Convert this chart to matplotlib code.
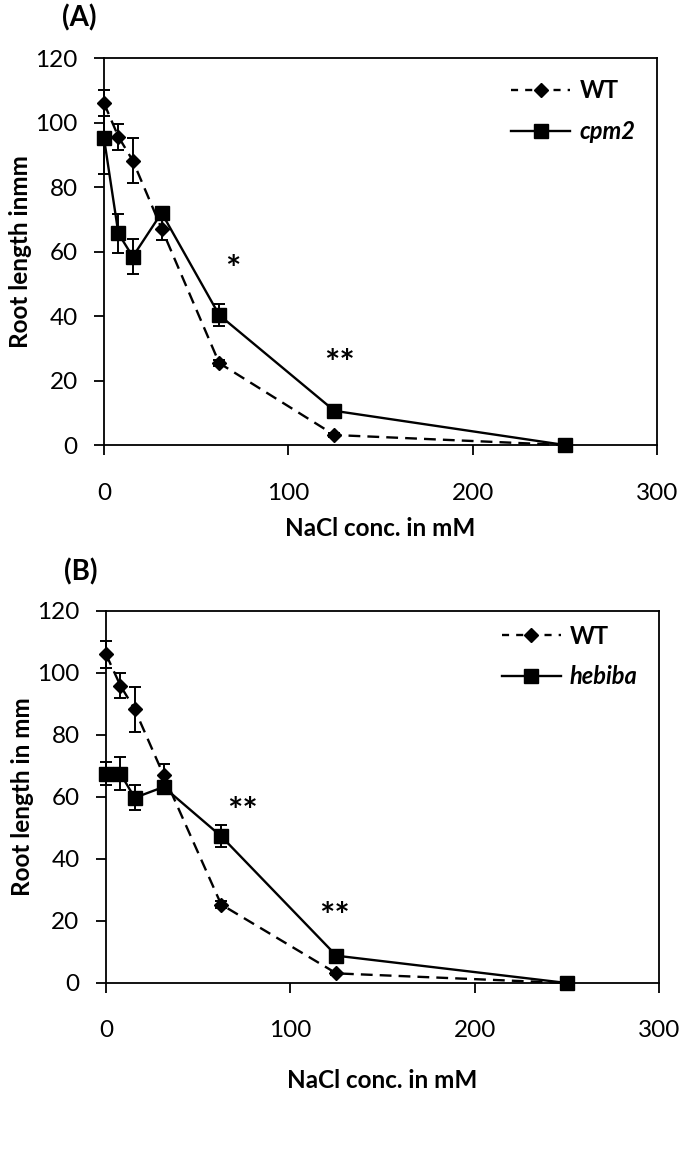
import matplotlib
matplotlib.use('Agg')
import matplotlib.pyplot as plt
from matplotlib.lines import Line2D

plt.rcParams['font.family'] = ['Lato', 'DejaVu Sans']

conc = [0, 7.8, 15.6, 31.25, 62.5, 125, 250]

wt_a = [106, 95.6, 88.2, 67.1, 25.4, 3.1, 0]
wt_a_err = [4, 4, 7, 3.5, 1, 0.5, 0]
cpm2 = [95.1, 65.6, 58.4, 72, 40.3, 10.6, 0]
cpm2_err = [11, 6, 5.5, 1.5, 3.3, 1, 0]

wt_b = [106, 95.9, 88.2, 67, 25.3, 3.1, 0]
wt_b_err = [4.3, 4, 7.2, 3.5, 1, 0.5, 0]
hebiba = [67.5, 67.5, 59.7, 63.2, 47.3, 8.8, 0]
hebiba_err = [3.7, 5.3, 4, 1.5, 3.5, 1, 0]

x_ticks = [0, 100, 200, 300]
y_ticks = [0, 20, 40, 60, 80, 100, 120]

# significance marks: (x, y, text)
stars_a = [(70, 54, '*'), (128, 25, '**')]
stars_b = [(74, 55, '**'), (124, 21, '**')]

fig = plt.figure(figsize=(7, 11.68), dpi=100)
axA = fig.add_axes([0.1486, 0.619, 0.79, 0.3313])
axB = fig.add_axes([0.1514, 0.1584, 0.79, 0.3187])

WT_DASH = (0, (5, 3))


def draw_panel(ax, wt, wt_err, mut, mut_err, mut_name, ylabel, stars, letter,
               letter_y, leg_y, xlabpad):
    ax.errorbar(conc, wt, yerr=wt_err, color='black', lw=1.7, ls=WT_DASH,
                marker='D', ms=7.5, capsize=4, elinewidth=1.4, capthick=1.4,
                clip_on=False, zorder=3)
    ax.errorbar(conc, mut, yerr=mut_err, color='black', lw=1.7, ls='-',
                marker='s', ms=9.5, capsize=4, elinewidth=1.4, capthick=1.4,
                clip_on=False, zorder=4)
    ax.set_xlim(0, 300)
    ax.set_ylim(0, 120)
    ax.set_xticks(x_ticks)
    ax.set_yticks(y_ticks)
    ax.tick_params(axis='x', direction='out', length=7, width=1.3, pad=20, labelsize=17.5)
    ax.tick_params(axis='y', direction='out', length=7, width=1.3, pad=12, labelsize=17.5)
    for s in ax.spines.values():
        s.set_linewidth(1.3)
    ax.set_xlabel('NaCl conc. in mM', fontsize=17.5, fontweight='bold', labelpad=xlabpad)
    ax.set_ylabel(ylabel, fontsize=17.5, fontweight='bold', labelpad=2)
    for sx, sy, st in stars:
        ax.text(sx, sy, st, fontsize=26, fontweight='bold', ha='center', va='center')
    ax.text(-0.045, letter_y, letter, transform=ax.transAxes, fontsize=20,
            fontweight='bold', ha='center', va='center')
    handles = [
        Line2D([], [], color='black', lw=1.7, ls=(0, (3, 3)), marker='D', ms=7.5),
        Line2D([], [], color='black', lw=1.7, ls='-', marker='s', ms=9.5),
    ]
    leg = ax.legend(handles, ['WT', mut_name], loc='upper right',
                    bbox_to_anchor=(1.0, leg_y), frameon=False, fontsize=17,
                    handlelength=2.5, labelspacing=0.75, handletextpad=0.4)
    for i, t in enumerate(leg.get_texts()):
        t.set_fontweight('bold')
        if i == 1:
            t.set_fontstyle('italic')


draw_panel(axA, wt_a, wt_a_err, cpm2, cpm2_err, 'cpm2', 'Root length inmm',
           stars_a, '(A)', 1.105, 1.0, 10)
draw_panel(axB, wt_b, wt_b_err, hebiba, hebiba_err, 'hebiba', 'Root length in mm',
           stars_b, '(B)', 1.105, 1.02, 20)

fig.savefig('out.png', dpi=100)
